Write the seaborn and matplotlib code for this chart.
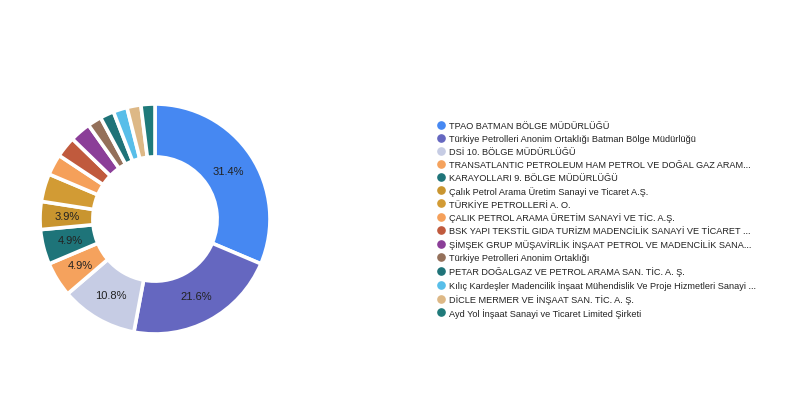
import matplotlib
matplotlib.use("Agg")
import matplotlib.pyplot as plt
from matplotlib.lines import Line2D
import seaborn as sns

# institutions and record counts (read from the donut, total = 102)
institutions = [
    "TPAO BATMAN BÖLGE MÜDÜRLÜĞÜ",
    "Türkiye Petrolleri Anonim Ortaklığı Batman Bölge Müdürlüğü",
    "DSİ 10. BÖLGE MÜDÜRLÜĞÜ",
    "TRANSATLANTIC PETROLEUM HAM PETROL VE DOĞAL GAZ ARAM...",
    "KARAYOLLARI 9. BÖLGE MÜDÜRLÜĞÜ",
    "Çalık Petrol Arama Üretim Sanayi ve Ticaret A.Ş.",
    "TÜRKİYE PETROLLERİ A. O.",
    "ÇALIK PETROL ARAMA ÜRETİM SANAYİ VE TİC. A.Ş.",
    "BSK YAPI TEKSTİL GIDA TURİZM MADENCİLİK SANAYİ VE TİCARET ...",
    "ŞİMŞEK GRUP MÜŞAVİRLİK İNŞAAT PETROL VE MADENCİLİK SANA...",
    "Türkiye Petrolleri Anonim Ortaklığı",
    "PETAR DOĞALGAZ VE PETROL ARAMA SAN. TİC. A. Ş.",
    "Kılıç Kardeşler Madencilik İnşaat Mühendislik Ve Proje Hizmetleri Sanayi ...",
    "DİCLE MERMER VE İNŞAAT SAN. TİC. A. Ş.",
    "Ayd Yol İnşaat Sanayi ve Ticaret Limited Şirketi",
]
counts = [32, 22, 11, 5, 5, 4, 4, 3, 3, 3, 2, 2, 2, 2, 2]
n_labeled = 6

slice_colors = [
    "#4688F2", "#6567C0", "#C6CCE4", "#F5A25D", "#1E7479",
    "#C9952F", "#D29B34", "#F5A05A", "#C05A3D", "#8B3E98",
    "#94705A", "#1F7378", "#58BEE9", "#DDB886", "#1F7A7A",
]

sns.set_theme(style="white")
plt.rcParams["font.family"] = ["Liberation Sans", "DejaVu Sans"]

fig = plt.figure(figsize=(8.02, 4.02), dpi=100)
ax = fig.add_axes([40 / 802, 67 / 402, 230 / 802, 230 / 402])

palette = sns.color_palette(slice_colors)
wedges, texts, autotexts = ax.pie(
    counts,
    colors=palette,
    startangle=90,
    counterclock=False,
    autopct="%1.1f%%",
    pctdistance=0.76,
    wedgeprops=dict(width=0.46, edgecolor="white", linewidth=2.6),
    textprops=dict(fontsize=8, color="#222222"),
)
for i, t in enumerate(autotexts):
    if i >= n_labeled:
        t.set_visible(False)
ax.set_xlim(-1.0, 1.0)
ax.set_ylim(-1.0, 1.0)
ax.set_aspect("equal")
ax.axis("off")

handles = [
    Line2D([0], [0], marker="o", linestyle="", markersize=5.2,
           markerfacecolor=c, markeredgecolor=c)
    for c in palette
]
fig.legend(
    handles, institutions,
    loc="upper left",
    bbox_to_anchor=(437 / 802, 1 - 122 / 402),
    frameon=False,
    fontsize=6.6,
    handlelength=0.8,
    handletextpad=0.55,
    labelspacing=0.43,
    borderpad=0,
    borderaxespad=0,
    labelcolor="#222222",
)

fig.savefig("out.png", dpi=100)
